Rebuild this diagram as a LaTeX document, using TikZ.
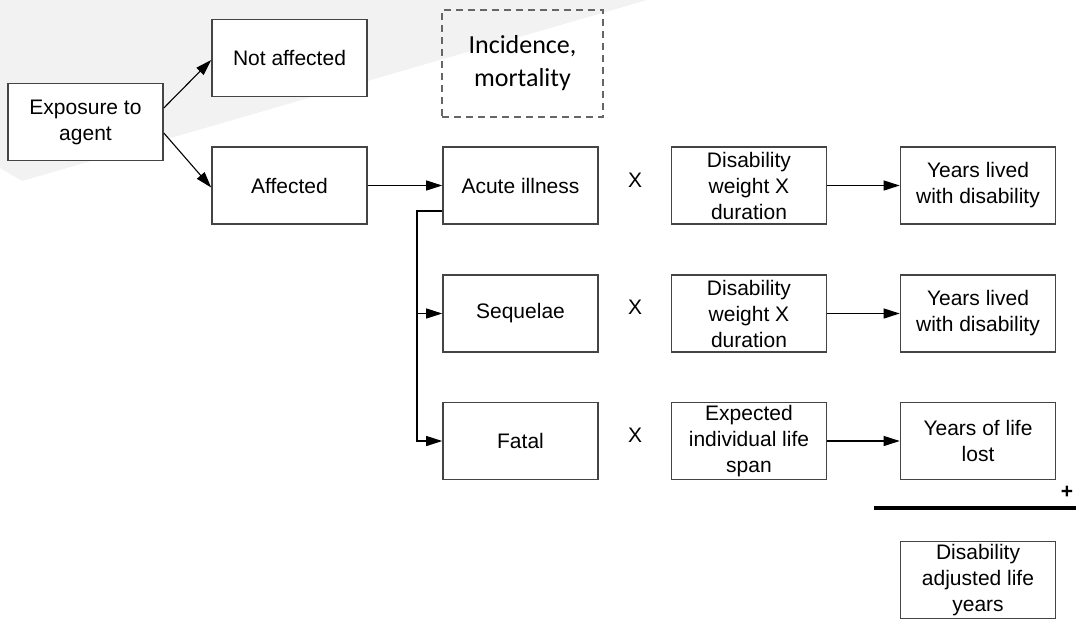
\documentclass[tikz,border=0pt]{standalone}
\usepackage{fontspec}
\setmainfont{Liberation Sans}
\newfontfamily\calibfont{Carlito}
\usepackage{xcolor}
\usetikzlibrary{arrows.meta, positioning}
\definecolor{bggray}{HTML}{F2F2F2}
\definecolor{boxline}{HTML}{444444}
\definecolor{dashline}{HTML}{666666}

\begin{document}
\begin{tikzpicture}[x=1pt, y=-1pt,
    block/.style={rectangle, draw=boxline, line width=1.6pt, fill=white,
                  minimum width=155pt, minimum height=77pt, inner sep=0pt,
                  align=center, font=\fontsize{21}{26}\selectfont},
    noteblock/.style={rectangle, draw=dashline, line width=2pt,
                      dash pattern=on 7pt off 5pt, minimum width=161pt,
                      minimum height=107pt, align=center,
                      font=\calibfont\fontsize{26}{33}\selectfont},
    times/.style={font=\fontsize{21}{25}\selectfont, inner sep=0pt},
    arrow/.style={-{Triangle[length=16pt, width=10pt]}, line width=1.1pt},
]
\useasboundingbox (0,0) rectangle (1076,619);
% background band
\fill[bggray] (0,0) -- (647,0) -- (22,181) -- (0,168) -- cycle;

% exposure
\node[block] (exp)   at (85.5,122)  {Exposure to\\agent};
\node[block] (na)    at (289.5,58)  {Not affected};
\node[block] (aff)   at (289.5,185.5) {Affected};
% outcomes
\node[noteblock] (inc) at (522.5,63.5) {Incidence,\\mortality};
\node[block] (acute) at (520.5,185.5) {Acute illness};
\node[block] (seq)   at (520.5,313.5) {Sequelae};
\node[block] (fatal) at (520.5,441)   {Fatal};
% weights
\node[block] (dw1)   at (749,185.5) {Disability\\weight X\\duration};
\node[block] (dw2)   at (749,313.5) {Disability\\weight X\\duration};
\node[block] (els)   at (749,441)   {Expected\\individual life\\span};
% results
\node[block] (yld1)  at (978,185.5) {Years lived\\with disability};
\node[block] (yld2)  at (978,313.5) {Years lived\\with disability};
\node[block] (yll)   at (978,441)   {Years of life\\lost};
\node[block] (daly)  at (978,580)   {Disability\\adjusted life\\years};
% multiplication signs
\node[times] (x1) at (635,180) {X};
\node[times] (x2) at (635,307) {X};
\node[times] (x3) at (635,435) {X};
% sum
\coordinate (suml) at (874,508);
\coordinate (sumr) at (1076,508);
\draw[line width=3.5pt] (suml) -- (sumr);
\node[times, font=\bfseries\fontsize{21}{25}\selectfont] (plus) at (1067,492) {+};

% exposure split
\draw[arrow] ([yshift=14pt]exp.east) -- ([yshift=-2pt]na.west);
\draw[arrow] ([yshift=-11pt]exp.east) -- ([yshift=-2pt]aff.west);
\draw[arrow] (aff) -- (acute);
% outcome branches
\coordinate (split) at (417,211);
\draw[arrow] (acute.west |- split) -- (split) |- (fatal.west);
\draw[arrow] (split |- seq.west) -- (seq.west);
% results
\draw[arrow] (dw1) -- (yld1);
\draw[arrow] (dw2) -- (yld2);
\draw[arrow] (els) -- (yll);
\end{tikzpicture}
\end{document}
